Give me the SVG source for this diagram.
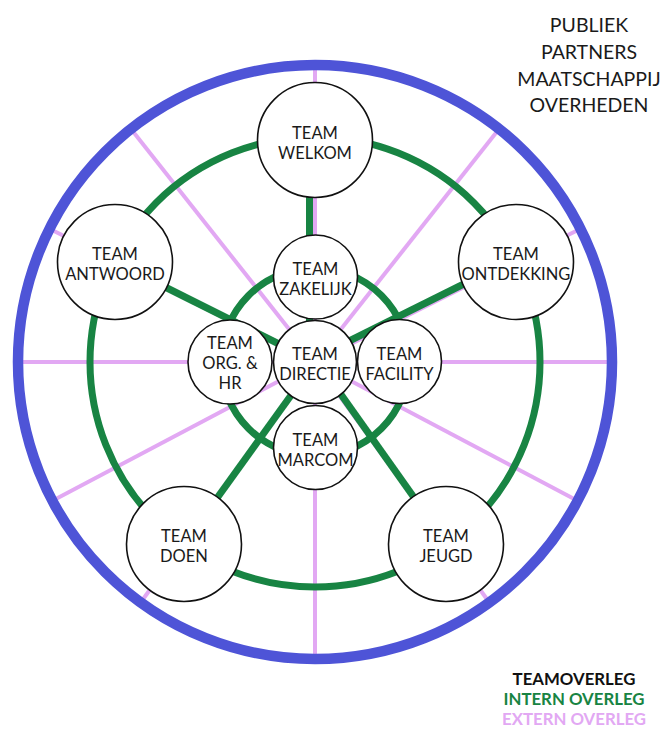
<svg xmlns="http://www.w3.org/2000/svg" width="664" height="731" viewBox="0 0 664 731">
  <style>
    .pink { stroke: #e2a8f3; stroke-width: 4; fill: none; }
    .green { stroke: #188443; stroke-width: 7; fill: none; }
    .blue { stroke: #4e54d7; stroke-width: 10.5; fill: none; }
    .node { fill: #ffffff; stroke: #111111; stroke-width: 1.6; }
    .lbl { font-family: Lato, "Open Sans", sans-serif; font-size: 16.5px; fill: #1a1a1a; text-anchor: middle; }
    .side { font-family: Lato, "Open Sans", sans-serif; font-size: 19.5px; fill: #1a1a1a; text-anchor: middle; }
    .leg { font-family: Lato, "Open Sans", sans-serif; font-size: 16.8px; font-weight: 700; text-anchor: middle; }
  </style>
  <rect width="664" height="731" fill="#ffffff"/>

  <g id="connectors">
    <!-- external (pink) spokes -->
    <line class="pink" x1="315" y1="362" x2="315" y2="65"/>
    <line class="pink" x1="315" y1="362" x2="315" y2="659"/>
    <line class="pink" x1="315" y1="362" x2="18" y2="362"/>
    <line class="pink" x1="315" y1="362" x2="612" y2="362"/>
    <line class="pink" x1="315" y1="362" x2="50" y2="229"/>
    <line class="pink" x1="315" y1="362" x2="580" y2="229"/>
    <line class="pink" x1="315" y1="362" x2="131" y2="129"/>
    <line class="pink" x1="315" y1="362" x2="499" y2="129"/>
    <line class="pink" x1="315" y1="362" x2="52" y2="501"/>
    <line class="pink" x1="315" y1="362" x2="578" y2="501"/>
    <line class="pink" x1="315" y1="362" x2="141" y2="602"/>
    <line class="pink" x1="315" y1="362" x2="489" y2="602"/>
    <!-- internal (green) rings and spokes -->
    <circle class="green" cx="315" cy="362" r="225"/>
    <circle class="green" cx="315" cy="362" r="94"/>
    <line class="green" x1="309.5" y1="362" x2="309.5" y2="140"/>
    <line class="green" x1="315" y1="362" x2="115" y2="262"/>
    <line class="green" x1="315" y1="358" x2="516" y2="258"/>
    <line class="green" x1="315" y1="362" x2="184" y2="544"/>
    <line class="green" x1="318" y1="362" x2="447" y2="544"/>
    <!-- outer ring -->
    <circle class="blue" cx="315" cy="362" r="297"/>
  </g>

  <g id="team-welkom">
    <circle class="node" cx="315" cy="140" r="57.5"/>
    <text class="lbl" x="315" y="139">TEAM</text>
    <text class="lbl" x="315" y="159">WELKOM</text>
  </g>
  <g id="team-antwoord">
    <circle class="node" cx="115" cy="262" r="57.5"/>
    <text class="lbl" x="115" y="260">TEAM</text>
    <text class="lbl" x="115" y="280">ANTWOORD</text>
  </g>
  <g id="team-ontdekking">
    <circle class="node" cx="516" cy="262" r="57.5"/>
    <text class="lbl" x="516" y="260">TEAM</text>
    <text class="lbl" x="516" y="280">ONTDEKKING</text>
  </g>
  <g id="team-doen">
    <circle class="node" cx="184" cy="544" r="57.5"/>
    <text class="lbl" x="184" y="542">TEAM</text>
    <text class="lbl" x="184" y="562">DOEN</text>
  </g>
  <g id="team-jeugd">
    <circle class="node" cx="446" cy="544" r="57.5"/>
    <text class="lbl" x="446" y="542">TEAM</text>
    <text class="lbl" x="446" y="562">JEUGD</text>
  </g>
  <g id="team-zakelijk">
    <circle class="node" cx="315.5" cy="277" r="42"/>
    <text class="lbl" x="315.5" y="275">TEAM</text>
    <text class="lbl" x="315.5" y="295">ZAKELIJK</text>
  </g>
  <g id="team-org-hr">
    <circle class="node" cx="230" cy="362" r="42"/>
    <text class="lbl" x="230" y="349">TEAM</text>
    <text class="lbl" x="230" y="369">ORG. &amp;</text>
    <text class="lbl" x="230" y="389">HR</text>
  </g>
  <g id="team-facility">
    <circle class="node" cx="399.5" cy="361.5" r="42"/>
    <text class="lbl" x="399.5" y="360">TEAM</text>
    <text class="lbl" x="399.5" y="380">FACILITY</text>
  </g>
  <g id="team-marcom">
    <circle class="node" cx="315.5" cy="447.5" r="42"/>
    <text class="lbl" x="315.5" y="446">TEAM</text>
    <text class="lbl" x="315.5" y="466">MARCOM</text>
  </g>
  <g id="team-directie">
    <circle class="node" cx="315" cy="362" r="41.5"/>
    <text class="lbl" x="315" y="360">TEAM</text>
    <text class="lbl" x="315" y="380">DIRECTIE</text>
  </g>

  <g id="externals">
    <text class="side" x="589" y="32">PUBLIEK</text>
    <text class="side" x="589" y="59">PARTNERS</text>
    <text class="side" x="589" y="86">MAATSCHAPPIJ</text>
    <text class="side" x="589" y="112">OVERHEDEN</text>
  </g>

  <g id="legend">
    <text class="leg" x="574" y="685" fill="#111111">TEAMOVERLEG</text>
    <text class="leg" x="574" y="705" fill="#188443">INTERN OVERLEG</text>
    <text class="leg" x="574" y="725" fill="#e2a8f3">EXTERN OVERLEG</text>
  </g>
</svg>
